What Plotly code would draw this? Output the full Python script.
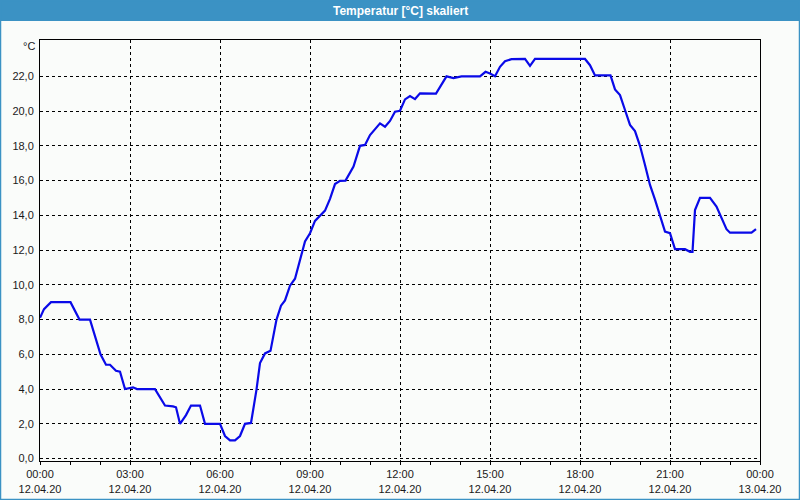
import plotly.graph_objects as go

# ---- data ----
times = ["00:00", "00:08", "00:22", "01:01", "01:19", "01:40", "02:01", "02:12", "02:20", "02:32",
         "02:40", "02:50", "03:06", "03:14", "03:50", "04:00", "04:10", "04:26", "04:32", "04:40",
         "04:52", "05:02", "05:20", "05:30", "06:00", "06:10", "06:20", "06:30", "06:40", "06:50",
         "07:02", "07:13", "07:20", "07:30", "07:41", "07:53", "08:02", "08:10", "08:20", "08:30",
         "08:40", "08:50", "09:00", "09:10", "09:30", "09:40", "09:50", "10:00", "10:11", "10:27",
         "10:40", "10:50", "11:00", "11:10", "11:20", "11:30", "11:40", "11:50", "12:00", "12:10",
         "12:20", "12:30", "12:40", "13:12", "13:33", "13:47", "14:03", "14:40", "14:51", "15:00",
         "15:10", "15:20", "15:30", "15:43", "16:10", "16:20", "16:30", "18:10", "18:20", "18:30",
         "19:01", "19:10", "19:20", "19:30", "19:40", "19:50", "20:00", "20:10", "20:20", "20:30",
         "20:40", "20:50", "21:00", "21:10", "21:30", "21:40", "21:45", "21:50", "22:00", "22:20",
         "22:33", "22:43", "22:53", "23:00", "23:43", "23:52"]
temps = [8.1, 8.6, 9.0, 9.0, 8.0, 8.0, 6.0, 5.4, 5.4, 5.05,
         5.0, 4.0, 4.1, 4.0, 4.0, 3.5, 3.05, 3.0, 2.95, 2.0,
         2.5, 3.05, 3.05, 2.0, 2.0, 1.3, 1.05, 1.05, 1.3, 2.0,
         2.05, 3.97, 5.5, 6.05, 6.2, 8.0, 8.8, 9.1, 9.95, 10.35,
         11.45, 12.5, 12.97, 13.68, 14.27, 14.95, 15.8, 15.98, 16.0, 16.8,
         18.0, 18.05, 18.62, 18.97, 19.29, 19.1, 19.43, 19.96, 20.02, 20.67,
         20.86, 20.69, 21.02, 21.0, 22.0, 21.9, 22.0, 22.0, 22.26, 22.16,
         22.0, 22.55, 22.87, 22.99, 23.0, 22.6, 23.0, 23.0, 22.64, 22.05,
         22.05, 21.25, 20.92, 20.06, 19.2, 18.85, 18.0, 16.9, 15.75, 14.9,
         14.0, 13.06, 12.97, 12.05, 12.05, 11.9, 11.9, 14.3, 15.0, 15.0,
         14.5, 13.83, 13.2, 13.0, 13.0, 13.2]
day = "2020-04-12"
x_tick_vals = ["2020-04-12 00:00", "2020-04-12 03:00", "2020-04-12 06:00", "2020-04-12 09:00",
               "2020-04-12 12:00", "2020-04-12 15:00", "2020-04-12 18:00", "2020-04-12 21:00",
               "2020-04-13 00:00"]
x_tick_text = ["00:00<br>12.04.20", "03:00<br>12.04.20", "06:00<br>12.04.20", "09:00<br>12.04.20",
               "12:00<br>12.04.20", "15:00<br>12.04.20", "18:00<br>12.04.20", "21:00<br>12.04.20",
               "00:00<br>13.04.20"]
y_tick_vals = [0, 2, 4, 6, 8, 10, 12, 14, 16, 18, 20, 22]
y_tick_text = ["0,0", "2,0", "4,0", "6,0", "8,0", "10,0", "12,0", "14,0", "16,0", "18,0", "20,0", "22,0"]
title_text = "Temperatur [°C] skaliert"
unit_text = "°C"

xs = [f"{day} {t}" for t in times]

BG = "#fafcfa"
BAR = "#3b92c4"
FONT = "Liberation Sans"

fig = go.Figure()
fig.add_trace(go.Scatter(x=xs, y=temps, mode="lines",
                         line=dict(color="#0a0ae8", width=2.2), hoverinfo="skip"))

W, H = 800, 500
L, R, T, B = 40, 40, 40, 39
pw, ph = W - L - R, H - T - B
def px(xp):
    return (xp - L) / pw
def py(yp):
    return 1 - (yp - T) / ph

fig.update_layout(
    width=W, height=H,
    margin=dict(l=L, r=R, t=T, b=B, autoexpand=False),
    paper_bgcolor=BG, plot_bgcolor=BG,
    showlegend=False,
    font=dict(family=FONT, size=11, color="#1a1a1a"),
    xaxis=dict(type="date", range=["2020-04-12 00:00", "2020-04-13 00:00"],
               tickvals=x_tick_vals, ticktext=x_tick_text, automargin=False,
               showline=True, linecolor="black", linewidth=1, mirror=True,
               ticks="outside", ticklen=3, tickcolor="black",
               minor=dict(ticks="outside", dtick=3600000, ticklen=3, tickcolor="black", showgrid=False),
               showgrid=True, gridcolor="black", gridwidth=1, griddash="3px,3px",
               zeroline=False, fixedrange=True),
    yaxis=dict(range=[-0.14, 24.09], tickvals=y_tick_vals, ticktext=y_tick_text, automargin=False,
               showline=True, linecolor="black", linewidth=1, mirror=True,
               ticks="outside", ticklen=3, tickcolor="rgba(0,0,0,0)",
               showgrid=True, gridcolor="black", gridwidth=1, griddash="3px,3px",
               zeroline=False, fixedrange=True),
    shapes=[
        dict(type="rect", xref="paper", yref="paper",
             x0=px(0), x1=px(800), y0=py(0), y1=py(21),
             fillcolor=BAR, line=dict(width=0), layer="above"),
        dict(type="rect", xref="paper", yref="paper",
             x0=px(0.5), x1=px(799.5), y0=py(0.5), y1=py(499.5),
             fillcolor="rgba(0,0,0,0)", line=dict(color=BAR, width=1.5), layer="above"),
    ],
    annotations=[
        dict(text=f"<b>{title_text}</b>", xref="paper", yref="paper",
             x=px(400), y=py(10.5), xanchor="center", yanchor="middle",
             showarrow=False, font=dict(family=FONT, size=12, color="white")),
        dict(text=unit_text, xref="paper", yref="paper",
             x=px(37), y=py(46), xanchor="right", yanchor="middle",
             showarrow=False, font=dict(family=FONT, size=11, color="#1a1a1a")),
    ],
)

fig.write_html("out.html", config={"displayModeBar": False})
